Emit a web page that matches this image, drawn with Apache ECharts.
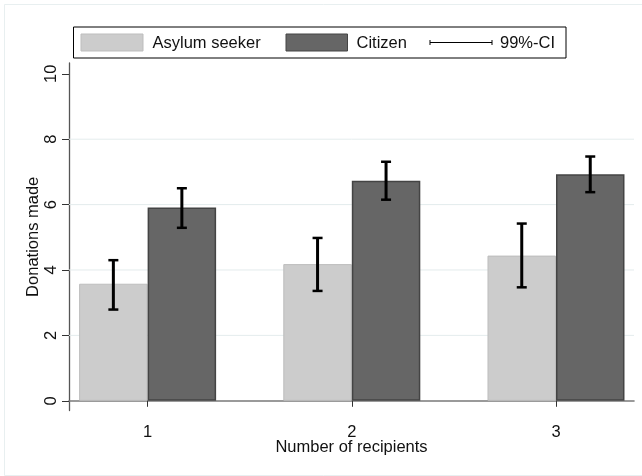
<!DOCTYPE html>
<html>
<head>
<meta charset="utf-8">
<script src="https://cdn.jsdelivr.net/npm/echarts@6/dist/echarts.min.js"></script>
<style>
html,body{margin:0;padding:0;background:#fff;}
#chart{width:642px;height:476px;}
</style>
</head>
<body>
<div id="chart"></div>
<script>
// ---- data ----
const categories = [1, 2, 3];
const categoryLabels = ['1', '2', '3'];
const asylumMean = [3.58, 4.18, 4.44];
const asylumLow  = [2.79, 3.36, 3.47];
const asylumHigh = [4.30, 4.98, 5.42];
const citizenMean = [5.91, 6.73, 6.93];
const citizenLow  = [5.29, 6.15, 6.38];
const citizenHigh = [6.50, 7.31, 7.47];
const yTicks = [0, 2, 4, 6, 8, 10];
const gridValues = [2, 4, 6, 8];
const seriesNames = ['Asylum seeker', 'Citizen', '99%-CI'];

const FONT = '"Liberation Sans", Arial, Helvetica, sans-serif';
const FS = 16.5;
const BAR_W = 68.5;

const chart = echarts.init(document.getElementById('chart'), null, {renderer: 'canvas'});

function ciRenderer(offset) {
  return function (params, api) {
    const x = api.value(0), lo = api.value(1), hi = api.value(2);
    const pHi = api.coord([x, hi]);
    const pLo = api.coord([x, lo]);
    const cx = pHi[0] + offset;
    const style = {stroke: '#000', lineWidth: 3};
    const cap = {stroke: '#000', lineWidth: 2.5};
    return {
      type: 'group',
      children: [
        {type: 'line', shape: {x1: cx, y1: pHi[1], x2: cx, y2: pLo[1]}, style: style},
        {type: 'line', shape: {x1: cx - 5, y1: pHi[1], x2: cx + 5, y2: pHi[1]}, style: cap},
        {type: 'line', shape: {x1: cx - 5, y1: pLo[1], x2: cx + 5, y2: pLo[1]}, style: cap}
      ]
    };
  };
}

const option = {
  backgroundColor: '#fff',
  animation: false,
  textStyle: {fontFamily: FONT},
  grid: {left: 69, right: 8, top: 63, bottom: 65.4, containLabel: false},
  xAxis: {
    type: 'value',
    min: 0.615,
    max: 3.382,
    name: 'Number of recipients',
    nameLocation: 'middle',
    nameGap: 28,
    nameMoveOverlap: false,
    nameTextStyle: {fontSize: FS, color: '#111', fontFamily: FONT},
    axisLine: {show: true, lineStyle: {color: '#7a7a7a', width: 1.6}},
    axisTick: {show: true, length: 6, lineStyle: {color: '#333', width: 1}, customValues: categories},
    axisLabel: {
      show: true, fontSize: FS, color: '#111', margin: 13, fontFamily: FONT,
      customValues: categories,
      formatter: function (v) { const i = categories.indexOf(v); return i >= 0 ? categoryLabels[i] : ''; }
    },
    splitLine: {show: false}
  },
  yAxis: {
    type: 'value',
    min: -0.3,
    max: 10.33,
    name: 'Donations made',
    nameLocation: 'middle',
    nameGap: 27,
    nameMoveOverlap: false,
    nameRotate: 90,
    nameTextStyle: {fontSize: FS, color: '#111', fontFamily: FONT},
    axisLine: {show: true, lineStyle: {color: '#555', width: 1.3}},
    axisTick: {show: true, length: 7, lineStyle: {color: '#333', width: 1}, customValues: yTicks},
    axisLabel: {show: true, rotate: 90, fontSize: FS, color: '#111', margin: 9, fontFamily: FONT, customValues: yTicks},
    splitLine: {show: false}
  },
  series: [
    {
      type: 'custom',
      name: 'grid',
      z: 1,
      silent: true,
      data: gridValues.map(v => [1, v]),
      renderItem: function (params, api) {
        const cs = params.coordSys;
        const y = api.coord([1, api.value(1)])[1];
        return {type: 'line', shape: {x1: cs.x, y1: y, x2: cs.x + cs.width, y2: y},
          style: {stroke: '#e4eced', lineWidth: 1}};
      }
    },
    {
      type: 'bar',
      name: seriesNames[0],
      z: 2,
      barWidth: BAR_W,
      barGap: '0%',
      itemStyle: {color: '#cccccc', borderColor: '#bdbdbd', borderWidth: 1},
      data: categories.map((c, i) => [c, asylumMean[i]])
    },
    {
      type: 'bar',
      name: seriesNames[1],
      z: 2,
      barWidth: BAR_W,
      barGap: '0%',
      itemStyle: {color: '#666666', borderColor: '#444444', borderWidth: 1.5},
      data: categories.map((c, i) => [c, citizenMean[i]])
    },
    {
      type: 'custom',
      name: seriesNames[2],
      z: 3,
      renderItem: ciRenderer(-BAR_W / 2),
      data: categories.map((c, i) => [c, asylumLow[i], asylumHigh[i]])
    },
    {
      type: 'custom',
      name: seriesNames[2] + ' ',
      z: 3,
      renderItem: ciRenderer(BAR_W / 2),
      data: categories.map((c, i) => [c, citizenLow[i], citizenHigh[i]])
    }
  ],
  graphic: [
    {type: 'rect', z: 0, silent: true, shape: {x: 4.5, y: 4.5, width: 700, height: 471},
      style: {fill: 'none', stroke: '#e8eff0', lineWidth: 1}},
    {
      type: 'group', z: 10, silent: true,
      children: [
        {type: 'rect', shape: {x: 73.5, y: 27, width: 492.5, height: 31}, style: {fill: '#fff', stroke: '#000', lineWidth: 1}},
        {type: 'rect', shape: {x: 81, y: 34, width: 62, height: 17}, style: {fill: '#cccccc', stroke: '#bdbdbd', lineWidth: 1}},
        {type: 'text', x: 152.5, y: 43, style: {text: seriesNames[0], font: FS + 'px ' + FONT, fill: '#111', textVerticalAlign: 'middle', verticalAlign: 'middle'}},
        {type: 'rect', shape: {x: 286, y: 34, width: 61.5, height: 17}, style: {fill: '#666666', stroke: '#444444', lineWidth: 1}},
        {type: 'text', x: 356.5, y: 43, style: {text: seriesNames[1], font: FS + 'px ' + FONT, fill: '#111', textVerticalAlign: 'middle', verticalAlign: 'middle'}},
        {type: 'line', shape: {x1: 430, y1: 42.5, x2: 492, y2: 42.5}, style: {stroke: '#000', lineWidth: 1}},
        {type: 'line', shape: {x1: 430, y1: 40, x2: 430, y2: 45}, style: {stroke: '#000', lineWidth: 1}},
        {type: 'line', shape: {x1: 492, y1: 40, x2: 492, y2: 45}, style: {stroke: '#000', lineWidth: 1}},
        {type: 'text', x: 500, y: 43, style: {text: seriesNames[2], font: FS + 'px ' + FONT, fill: '#111', textVerticalAlign: 'middle', verticalAlign: 'middle'}}
      ]
    }
  ]
};
chart.setOption(option);
</script>
</body>
</html>
